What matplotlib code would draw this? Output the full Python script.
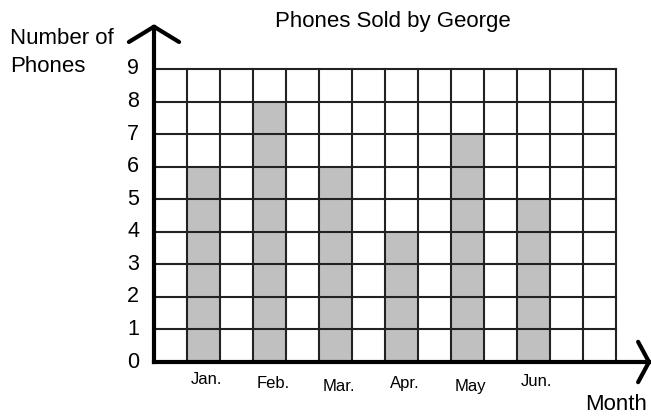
import matplotlib.pyplot as plt

months = ['Jan.', 'Feb.', 'Mar.', 'Apr.', 'May', 'Jun.']
phones = [6, 8, 6, 4, 7, 5]
bar_cols = [1, 3, 5, 7, 9, 11]
label_drop = [0.55, 0.65, 0.75, 0.65, 0.75, 0.6]
n_cols = 14
y_max = 9

plt.rcParams['font.family'] = ['Liberation Sans', 'DejaVu Sans']

fig = plt.figure(figsize=(6.51, 4.16), dpi=100)
W, H = 651, 416
ax = fig.add_axes([154 / W, (H - 362) / H, (616 - 154) / W, (362 - 69) / H])
ax.set_xlim(0, n_cols)
ax.set_ylim(0, y_max)

ax.bar([c + 0.5 for c in bar_cols], phones, width=1, color='#c0c0c0', zorder=1)

# grid cells
for x in range(1, n_cols + 1):
    ax.plot([x, x], [0, y_max], color='#222222', lw=1.5, zorder=2, clip_on=False)
for y in range(1, y_max + 1):
    ax.plot([0, n_cols], [y, y], color='#222222', lw=1.5, zorder=2, clip_on=False)

for s in ax.spines.values():
    s.set_visible(False)
ax.set_xticks([])
ax.set_yticks([])

# axes with arrows
ax.plot([0, 0], [0, 10.3], color='black', lw=3, clip_on=False, zorder=3)
ax.plot([-0.76, 0, 0.76], [9.83, 10.3, 9.83], color='black', lw=3,
        clip_on=False, zorder=3, solid_capstyle='round')
ax.plot([0, 15.0], [0, 0], color='black', lw=3, clip_on=False, zorder=3)
ax.plot([14.67, 15.0, 14.67], [0.62, 0, -0.62], color='black', lw=3,
        clip_on=False, zorder=3, solid_capstyle='round')

for v in range(y_max + 1):
    ax.text(-0.63, v, str(v), ha='center', va='center', fontsize=15.5, clip_on=False)

for c, m, d in zip(bar_cols, months, label_drop):
    ax.text(c + 0.6, -d, m, ha='center', va='center', fontsize=12)

fig.text(616 / W, 1 - 405 / H, 'Month', ha='center', va='center', fontsize=16)
fig.text(10 / W, 1 - 38 / H, 'Number of', ha='left', va='center', fontsize=16)
fig.text(10 / W, 1 - 66 / H, 'Phones', ha='left', va='center', fontsize=16)
fig.text(393 / W, 1 - 22 / H, 'Phones Sold by George', ha='center', va='center', fontsize=16)

fig.savefig('out.png', dpi=100)
